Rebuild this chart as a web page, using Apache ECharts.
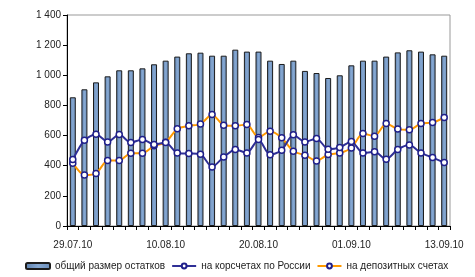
<!DOCTYPE html>
<html>
<head>
<meta charset="utf-8">
<script src="https://cdn.jsdelivr.net/npm/echarts@6/dist/echarts.min.js"></script>
<style>
  html, body { margin: 0; padding: 0; background: #fff; }
  #chart { width: 475px; height: 277px; }
</style>
</head>
<body>
<div id="chart"></div>
<script>
// рабочие дни 29.07.10 - 13.09.10
const dates = [
  '29.07.10', '30.07.10', '02.08.10', '03.08.10', '04.08.10', '05.08.10', '06.08.10',
  '09.08.10', '10.08.10', '11.08.10', '12.08.10', '13.08.10', '16.08.10', '17.08.10',
  '18.08.10', '19.08.10', '20.08.10', '23.08.10', '24.08.10', '25.08.10', '26.08.10',
  '27.08.10', '30.08.10', '31.08.10', '01.09.10', '02.09.10', '03.09.10', '06.09.10',
  '07.09.10', '08.09.10', '09.09.10', '10.09.10', '13.09.10'
]
const totalBalance = [
  854, 907, 953, 993, 1033, 1033, 1046, 1073, 1097, 1124, 1146, 1150, 1130, 1130,
  1170, 1157, 1157, 1097, 1075, 1097, 1029, 1015, 982, 1000, 1066, 1097, 1097,
  1124, 1152, 1166, 1157, 1139, 1130
]
const corrAccounts = [
  441, 569, 609, 558, 607, 554, 574, 541, 554, 485, 481, 476, 392, 458,
  508, 485, 574, 472, 503, 605, 558, 581, 510, 521, 561, 485, 492,
  443, 508, 537, 485, 454, 421
]
const depositAccounts = [
  417, 339, 348, 435, 435, 483, 483, 532, 555, 645, 665, 676, 740, 669,
  665, 673, 587, 629, 585, 496, 470, 432, 474, 485, 518, 613, 596,
  680, 643, 638, 680, 686, 720
]
const seriesNames = ['общий размер остатков', 'на корсчетах по России', 'на депозитных счетах']

const chart = echarts.init(document.getElementById('chart'))
const font = 'Liberation Sans, Arial, sans-serif'

chart.setOption({
  animation: false,
  textStyle: { fontFamily: font },
  grid: {
    left: 67,
    right: 25,
    top: 15,
    bottom: 51,
    show: true,
    borderColor: '#999',
    borderWidth: 1
  },
  legend: {
    bottom: 1,
    left: 20,
    itemGap: 6,
    itemWidth: 24,
    itemHeight: 6,
    textStyle: { color: '#222', fontSize: 10, fontFamily: font },
    data: seriesNames
  },
  xAxis: {
    type: 'category',
    data: dates,
    boundaryGap: true,
    axisLine: { lineStyle: { color: '#000', width: 1 } },
    axisTick: { show: true, interval: 0, length: 4, lineStyle: { color: '#000' } },
    axisLabel: { interval: 7, margin: 14, color: '#222', fontSize: 10, fontFamily: font },
    splitLine: { show: false }
  },
  yAxis: {
    type: 'value',
    min: 0,
    max: 1400,
    interval: 200,
    axisLine: { show: true, lineStyle: { color: '#000', width: 1 } },
    axisTick: { show: true, length: 4, lineStyle: { color: '#000' } },
    axisLabel: {
      color: '#222',
      fontSize: 10,
      fontFamily: font,
      margin: 6,
      formatter(v) {
        return String(v).replace(/\B(?=(\d{3})+(?!\d))/g, ' ')
      }
    },
    splitLine: { show: false }
  },
  series: [
    {
      name: seriesNames[0],
      type: 'bar',
      barWidth: 6,
      itemStyle: {
        color: new echarts.graphic.LinearGradient(0, 0, 1, 0, [
          { offset: 0, color: '#5d80ad' },
          { offset: 0.5, color: '#86a8d2' },
          { offset: 1, color: '#6a8cb8' }
        ]),
        borderColor: '#1c1c1c',
        borderWidth: 1
      },
      data: totalBalance
    },
    {
      name: seriesNames[1],
      type: 'line',
      smooth: 0.25,
      symbol: 'circle',
      symbolSize: 6,
      lineStyle: { color: '#2f2f96', width: 2 },
      itemStyle: { color: '#fff', borderColor: '#1f1f8a', borderWidth: 1.5 },
      z: 4,
      data: corrAccounts
    },
    {
      name: seriesNames[2],
      type: 'line',
      smooth: 0.25,
      symbol: 'circle',
      symbolSize: 6,
      lineStyle: { color: '#ff9900', width: 2 },
      itemStyle: { color: '#fff', borderColor: '#1f1f8a', borderWidth: 1.5 },
      z: 3,
      data: depositAccounts
    }
  ]
})
</script>
</body>
</html>
